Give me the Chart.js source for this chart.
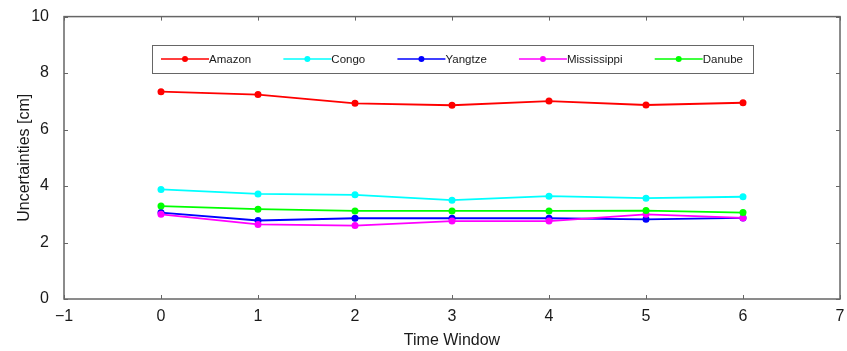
<!DOCTYPE html>
<html>
<head>
<meta charset="utf-8">
<script src="https://cdn.jsdelivr.net/npm/chart.js@4.4.0/dist/chart.umd.min.js"></script>
<style>
    html, body { margin: 0; padding: 0; background: #ffffff; }
    #grafico { display: block; }
</style>
</head>
<body>
<canvas id="grafico" width="847" height="351"></canvas>
<script>
// janelas de tempo e incertezas [cm] por rio
const janelas = [0, 1, 2, 3, 4, 5, 6];
const rios = ['Amazon', 'Congo', 'Yangtze', 'Mississippi', 'Danube'];
const amazon = [7.34, 7.24, 6.93, 6.86, 7.01, 6.87, 6.95];
const congo = [3.88, 3.72, 3.69, 3.50, 3.64, 3.57, 3.62];
const yangtze = [3.06, 2.78, 2.86, 2.86, 2.86, 2.82, 2.87];
const mississippi = [3.00, 2.64, 2.60, 2.76, 2.76, 3.00, 2.87];
const danube = [3.29, 3.18, 3.12, 3.12, 3.12, 3.13, 3.06];
const cores = ['#ff0000', '#00ffff', '#0000ff', '#ff00ff', '#00ff00'];

const series = [amazon, congo, yangtze, mississippi, danube];
const fonte = "'Liberation Sans', Arial, Helvetica, sans-serif";

// caixa do eixo com marcas de escala voltadas para dentro (estilo matlab)
const caixaEixos = {
    id: 'caixaEixos',
    afterDraw(chart) {
        const ctx = chart.ctx;
        const a = chart.chartArea;
        const sx = chart.scales.x, sy = chart.scales.y;
        ctx.save();
        ctx.strokeStyle = '#666666';
        ctx.lineWidth = 1.5;
        ctx.strokeRect(a.left, a.top, a.right - a.left, a.bottom - a.top);
        ctx.lineWidth = 1;
        ctx.beginPath();
        sx.ticks.forEach(t => {
            const px = Math.round(sx.getPixelForValue(t.value)) + 0.5;
            ctx.moveTo(px, a.bottom); ctx.lineTo(px, a.bottom - 4);
            ctx.moveTo(px, a.top); ctx.lineTo(px, a.top + 4);
        });
        sy.ticks.forEach(t => {
            const py = Math.round(sy.getPixelForValue(t.value)) + 0.5;
            ctx.moveTo(a.left, py); ctx.lineTo(a.left + 4, py);
            ctx.moveTo(a.right, py); ctx.lineTo(a.right - 4, py);
        });
        ctx.stroke();
        ctx.restore();
    }
};

// legenda horizontal dentro da área do gráfico
const legendaCaixa = {
    id: 'legendaCaixa',
    afterDatasetsDraw(chart) {
        const ctx = chart.ctx;
        const esq = 152, dir = 753, topo = 45, base = 73;
        const meio = (topo + base) / 2;
        const linha = 48;
        ctx.save();
        ctx.fillStyle = '#ffffff';
        ctx.fillRect(esq, topo, dir - esq, base - topo);
        ctx.strokeStyle = '#666666';
        ctx.lineWidth = 1;
        ctx.strokeRect(esq + 0.5, topo + 0.5, dir - esq, base - topo);

        ctx.font = '11.5px ' + fonte;
        ctx.textBaseline = 'middle';
        const larguras = chart.data.datasets.map(d => ctx.measureText(d.label).width);
        const total = larguras.reduce((s, w) => s + w + linha, 0);
        const inicio = esq + 9;
        const fim = dir - 10;
        const espaco = (fim - inicio - total) / (larguras.length - 1);

        let x = inicio;
        chart.data.datasets.forEach((d, i) => {
            ctx.strokeStyle = d.borderColor;
            ctx.lineWidth = 1.5;
            ctx.beginPath();
            ctx.moveTo(x, meio);
            ctx.lineTo(x + linha, meio);
            ctx.stroke();
            ctx.fillStyle = d.borderColor;
            ctx.beginPath();
            ctx.arc(x + linha / 2, meio, 3, 0, Math.PI * 2);
            ctx.fill();
            ctx.fillStyle = '#1a1a1a';
            ctx.fillText(d.label, x + linha, meio + 1);
            x += linha + larguras[i] + espaco;
        });
        ctx.restore();
    }
};

const datasets = rios.map((nome, i) => ({
    label: nome,
    data: janelas.map((j, k) => ({ x: j, y: series[i][k] })),
    borderColor: cores[i],
    backgroundColor: cores[i],
    borderWidth: 1.8,
    pointRadius: 3.5,
    pointHoverRadius: 3.5,
    pointBorderWidth: 0,
    fill: false,
    tension: 0,
    order: rios.length - i
}));

const grafico = new Chart(document.getElementById('grafico'), {
    type: 'line',
    data: { datasets: datasets },
    options: {
        responsive: false,
        animation: false,
        devicePixelRatio: 1,
        layout: {
            padding: { left: 0, right: 7, top: 16, bottom: 0 }
        },
        plugins: {
            legend: { display: false },
            tooltip: { enabled: false }
        },
        scales: {
            x: {
                type: 'linear',
                min: -1,
                max: 7,
                grid: { display: false },
                border: { display: false },
                ticks: {
                    stepSize: 1,
                    padding: 0,
                    color: '#1a1a1a',
                    font: { family: fonte, size: 16 },
                    // sinal de menos tipográfico
                    callback: (v) => String(v).replace('-', '\u2212')
                },
                title: {
                    display: true,
                    text: 'Time Window',
                    color: '#1a1a1a',
                    font: { family: fonte, size: 16 },
                    padding: { top: 0, bottom: 1 }
                },
                afterFit(scale) { scale.height = 52; }
            },
            y: {
                min: 0,
                max: 10,
                grid: { display: false },
                border: { display: false },
                ticks: {
                    stepSize: 2,
                    padding: 7,
                    color: '#1a1a1a',
                    font: { family: fonte, size: 16 }
                },
                title: {
                    display: true,
                    text: 'Uncertainties [cm]',
                    color: '#1a1a1a',
                    font: { family: fonte, size: 16 },
                    padding: { top: 15, bottom: 0 }
                },
                afterFit(scale) { scale.width = 64; }
            }
        }
    },
    plugins: [caixaEixos, legendaCaixa]
});
</script>
</body>
</html>
